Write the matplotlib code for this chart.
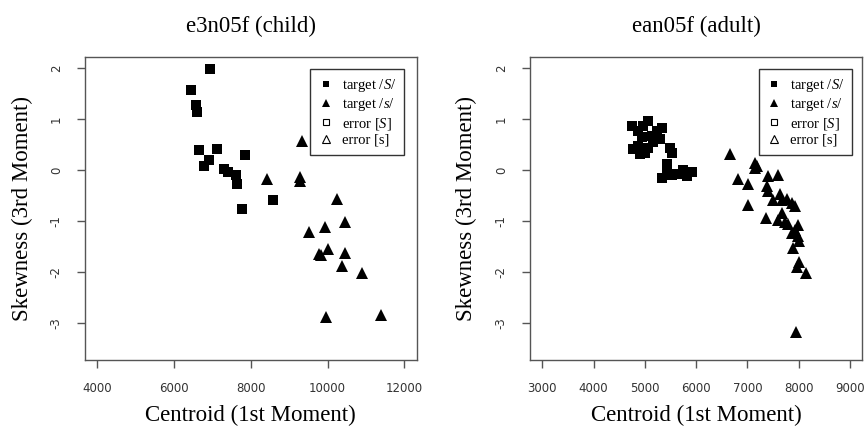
import matplotlib
matplotlib.use("Agg")
import matplotlib.pyplot as plt
from matplotlib.lines import Line2D

plt.rcParams['mathtext.fontset'] = 'custom'
plt.rcParams['mathtext.rm'] = 'Liberation Serif'
plt.rcParams['mathtext.it'] = 'Liberation Serif:italic'

# ---- child panel data ----
child_sh_x = [6940, 6439, 6560, 6595, 6637, 7114, 6914, 6767, 7849, 7303, 7399, 7615, 7632, 7778, 8567]
child_sh_y = [1.97, 1.56, 1.28, 1.14, 0.39, 0.41, 0.20, 0.08, 0.30, 0.03, -0.04, -0.105, -0.27, -0.76, -0.58]
child_s_x = [9345, 8411, 9275, 9275, 10245, 10443, 9924, 9517, 10010, 9821, 9776, 10443, 10383, 10892, 9950, 11395]
child_s_y = [0.56, -0.18, -0.13, -0.22, -0.56, -1.02, -1.12, -1.22, -1.55, -1.66, -1.65, -1.62, -1.88, -2.01, -2.88, -2.83]

# ---- adult panel data ----
adult_sh_x = [4743, 5067, 5328, 4872, 4938, 5133, 5295, 4872, 5067, 5490, 4907, 5523, 5425, 5425,
              5328, 5523, 5750, 5913, 5815, 5620, 4775, 4970, 5165, 5003, 5230]
adult_sh_y = [0.855, 0.97, 0.82, 0.77, 0.64, 0.67, 0.60, 0.47, 0.44, 0.44, 0.31, 0.34, 0.11, 0.05,
              -0.15, -0.10, 0.00, -0.04, -0.12, -0.07, 0.41, 0.87, 0.54, 0.34, 0.77]
adult_s_x = [6660, 7148, 7148, 7180, 6822, 7005, 7017, 7356, 7407, 7590, 7388, 7407, 7505, 7635,
             7668, 7766, 7863, 7928, 7668, 7603, 7733, 7798, 7993, 7928, 7863, 7993, 8012, 7895,
             8012, 7961, 8142, 7948]
adult_s_y = [0.31, 0.13, 0.05, 0.08, -0.18, -0.28, -0.68, -0.93, -0.12, -0.09, -0.32, -0.41, -0.58, -0.46,
             -0.59, -0.57, -0.64, -0.71, -0.84, -0.97, -1.01, -1.06, -1.07, -1.17, -1.24, -1.30, -1.39, -1.52,
             -1.80, -1.89, -2.01, -3.18]

titles = ["e3n05f (child)", "ean05f (adult)"]
xlabel = "Centroid (1st Moment)"
ylabel = "Skewness (3rd Moment)"
child_xticks = [4000, 6000, 8000, 10000, 12000]
adult_xticks = [3000, 4000, 5000, 6000, 7000, 8000, 9000]
yticks = [-3, -2, -1, 0, 1, 2]
legend_labels = [r"target $\mathit{/S/}$", r"target $\mathit{/s/}$", r"error [$\mathit{S}$]", "error [s]"]

W, H = 865, 428
fig = plt.figure(figsize=(W / 100, H / 100), dpi=100)

def px_axes(x0, x1, y0, y1):
    return fig.add_axes([x0 / W, 1 - y1 / H, (x1 - x0) / W, (y1 - y0) / H])

ax1 = px_axes(85, 416.7, 56.7, 360)
ax2 = px_axes(530, 862.3, 56.7, 360)

serif = 'Liberation Serif'
panels = [
    (ax1, child_sh_x, child_sh_y, child_s_x, child_s_y, child_xticks, (3680, 12320), 0.962),
    (ax2, adult_sh_x, adult_sh_y, adult_s_x, adult_s_y, adult_xticks, (2760, 9240), 0.970),
]

for i, (ax, sx, sy, tx, ty, xt, xl, legx) in enumerate(panels):
    ax.plot(sx, sy, linestyle='none', marker='s', markersize=7.2, color='black', mew=0)
    ax.plot(tx, ty, linestyle='none', marker='^', markersize=8.6, color='black', mew=0)
    ax.set_xlim(*xl)
    ax.set_ylim(-3.72, 2.22)
    ax.set_xticks(xt)
    ax.set_xticklabels([str(v) for v in xt])
    ax.set_yticks(yticks)
    ax.set_yticklabels([str(v) for v in yticks], rotation=90, va='center')
    for sp in ax.spines.values():
        sp.set_color('#555555')
        sp.set_linewidth(1.0)
    ax.tick_params(axis='both', direction='out', length=6, width=1.0, color='#555555',
                   labelsize=8.5, labelcolor='#333333')
    ax.tick_params(axis='x', pad=9.5)
    ax.tick_params(axis='y', pad=10)
    for lab in ax.get_xticklabels() + ax.get_yticklabels():
        lab.set_family('DejaVu Sans')
    ax.text(0.5, (360 - 421) / 303.3, xlabel, transform=ax.transAxes, ha='center', va='baseline',
            fontsize=16.5, family=serif)
    ax.text(-63 / 331.7, 0.5, ylabel, transform=ax.transAxes, ha='center', va='center',
            rotation=90, fontsize=16.5, family=serif)
    ax.text(0.5, (360 - 31.7) / 303.3, titles[i], transform=ax.transAxes, ha='center', va='baseline',
            fontsize=16.5, family=serif)

    handles = [
        Line2D([], [], linestyle='none', marker='s', markersize=5, color='black', mew=0),
        Line2D([], [], linestyle='none', marker='^', markersize=6, color='black', mew=0),
        Line2D([], [], linestyle='none', marker='s', markersize=5, markerfacecolor='white',
               markeredgecolor='black', mew=0.8),
        Line2D([], [], linestyle='none', marker='^', markersize=6, markerfacecolor='white',
               markeredgecolor='black', mew=0.8),
    ]
    leg = ax.legend(handles, legend_labels, loc='upper right', bbox_to_anchor=(legx, 0.959),
                    borderaxespad=0, fancybox=False, framealpha=1, edgecolor='#333333',
                    prop={'family': serif, 'size': 10.5}, labelspacing=0.15,
                    handlelength=1.0, handletextpad=0.6, borderpad=0.55)
    leg.get_frame().set_linewidth(1.0)

fig.savefig('out.png', dpi=100)
